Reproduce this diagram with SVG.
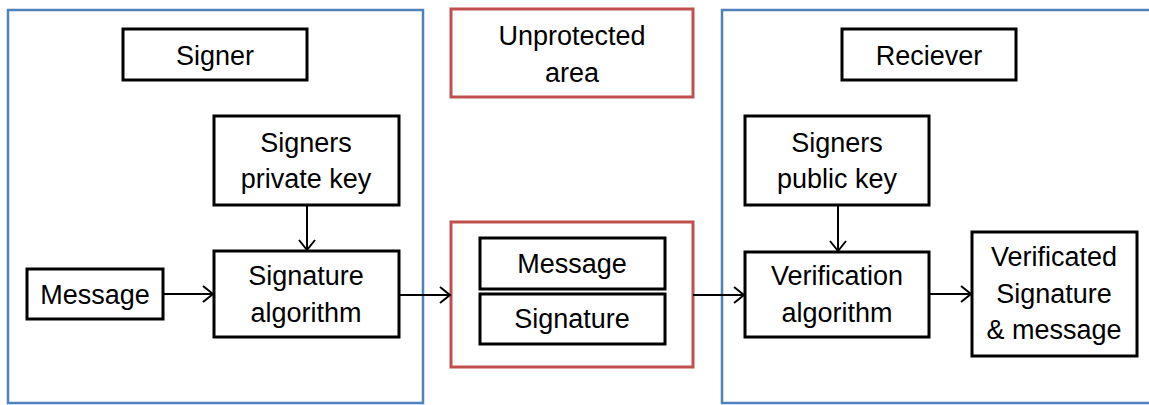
<svg xmlns="http://www.w3.org/2000/svg" width="1149" height="405" viewBox="0 0 1149 405">
<style>
.frame{fill:none;stroke:#4f81bd;stroke-width:2.5}
.red{fill:none;stroke:#c0504d;stroke-width:3}
.box{fill:#fff;stroke:#000;stroke-width:3}
text{font-family:"Liberation Sans",Arial,sans-serif;font-size:27px;fill:#000;text-anchor:middle}
.conn{stroke:#000;stroke-width:2;fill:none}
</style>
<defs>
<marker id="arr" markerWidth="14" markerHeight="18" refX="11" refY="9" orient="auto" markerUnits="userSpaceOnUse">
<path d="M1,1 L11,9 L1,17" fill="none" stroke="#000" stroke-width="2"/>
</marker>
</defs>
<rect width="1149" height="405" fill="#fff"/>
<g id="signer-frame"><rect class="frame" x="8" y="10" width="415" height="393"/></g>
<g id="receiver-frame"><rect class="frame" x="722" y="10" width="440" height="393"/></g>
<g id="unprotected"><rect class="red" x="451" y="9" width="242" height="88"/><text x="572" y="45">Unprotected</text><text x="572" y="82">area</text></g>
<g id="signer"><rect class="box" x="123" y="29" width="184" height="51"/><text x="215" y="65">Signer</text></g>
<g id="reciever"><rect class="box" x="842" y="29" width="174" height="51"/><text x="929" y="65">Reciever</text></g>
<g id="private-key"><rect class="box" x="214" y="116" width="185" height="89"/><text x="306" y="152">Signers</text><text x="306" y="188">private key</text></g>
<g id="public-key"><rect class="box" x="745" y="116" width="184" height="89"/><text x="837" y="152">Signers</text><text x="837" y="188">public key</text></g>
<g id="message"><rect class="box" x="27" y="269" width="136" height="50"/><text x="95" y="304">Message</text></g>
<g id="sig-alg"><rect class="box" x="214" y="251" width="185" height="86"/><text x="306" y="285">Signature</text><text x="306" y="322">algorithm</text></g>
<g id="channel"><rect class="red" x="451" y="222" width="242" height="145"/></g>
<g id="ch-message"><rect class="box" x="480" y="238" width="185" height="51"/><text x="572" y="273">Message</text></g>
<g id="ch-signature"><rect class="box" x="480" y="294" width="185" height="50"/><text x="572" y="328">Signature</text></g>
<g id="ver-alg"><rect class="box" x="745" y="252" width="184" height="85"/><text x="837" y="285">Verification</text><text x="837" y="322">algorithm</text></g>
<g id="verified"><rect class="box" x="972" y="232" width="165" height="124"/><text x="1054" y="266">Verificated</text><text x="1054" y="303">Signature</text><text x="1054" y="339">&amp; message</text></g>
<g id="connectors">
<line class="conn" x1="163" y1="294" x2="213" y2="294" marker-end="url(#arr)"/>
<line class="conn" x1="307" y1="205" x2="307" y2="250" marker-end="url(#arr)"/>
<line class="conn" x1="399" y1="295" x2="450" y2="295" marker-end="url(#arr)"/>
<line class="conn" x1="693" y1="295" x2="744" y2="295" marker-end="url(#arr)"/>
<line class="conn" x1="838" y1="205" x2="838" y2="251" marker-end="url(#arr)"/>
<line class="conn" x1="929" y1="294" x2="971" y2="294" marker-end="url(#arr)"/>
</g>
</svg>
